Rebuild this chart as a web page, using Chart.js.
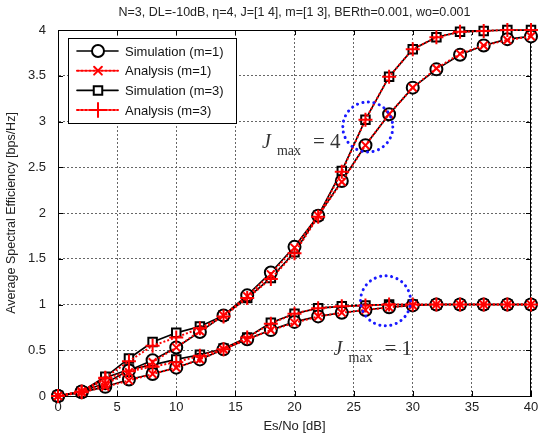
<!DOCTYPE html>
<html><head><meta charset="utf-8">
<script src="https://cdn.jsdelivr.net/npm/chart.js@4.4.1/dist/chart.umd.min.js"></script>
<style>html,body{margin:0;padding:0;background:#fff}#c{display:block}</style>
</head><body>
<canvas id="c" width="544" height="437"></canvas>
<script>
const titleText = "N=3, DL=-10dB, \u03B7=4, J=[1 4], m=[1 3], BERth=0.001, wo=0.001";
const xLabel = "Es/No [dB]";
const yLabel = "Average Spectral Efficiency [bps/Hz]";
const esno = [0,2,4,6,8,10,12,14,16,18,20,22,24,26,28,30,32,34,36,38,40];
const j4m1Sim = [0.00,0.05,0.14,0.28,0.39,0.53,0.70,0.88,1.10,1.35,1.63,1.97,2.35,2.74,3.08,3.37,3.57,3.73,3.83,3.90,3.93];
const j4m1Ana = [0.00,0.05,0.13,0.26,0.37,0.53,0.71,0.88,1.09,1.33,1.62,1.97,2.34,2.74,3.08,3.37,3.58,3.74,3.83,3.89,3.93];
const j4m3Sim = [0.00,0.05,0.21,0.41,0.59,0.69,0.76,0.88,1.07,1.29,1.57,1.97,2.46,3.02,3.49,3.79,3.92,3.98,3.99,4.00,4.00];
const j4m3Ana = [0.00,0.05,0.20,0.38,0.55,0.64,0.74,0.87,1.07,1.28,1.56,1.96,2.45,3.02,3.49,3.79,3.92,3.98,3.99,4.00,4.00];
const j1m1Sim = [0.00,0.04,0.10,0.18,0.24,0.31,0.40,0.51,0.62,0.72,0.81,0.87,0.91,0.94,0.97,0.99,1.00,1.00,1.00,1.00,1.00];
const j1m1Ana = [0.00,0.04,0.10,0.17,0.24,0.31,0.40,0.51,0.62,0.72,0.80,0.87,0.91,0.94,0.97,0.99,1.00,1.00,1.00,1.00,1.00];
const j1m3Sim = [0.00,0.04,0.20,0.29,0.34,0.40,0.45,0.52,0.64,0.80,0.90,0.96,0.98,0.99,1.00,1.00,1.00,1.00,1.00,1.00,1.00];
const j1m3Ana = [0.00,0.04,0.19,0.27,0.32,0.37,0.44,0.51,0.64,0.79,0.90,0.96,0.98,0.99,1.00,1.00,1.00,1.00,1.00,1.00,1.00];
const legendNames = ["Simulation (m=1)","Analysis (m=1)","Simulation (m=3)","Analysis (m=3)"];
const annotations = [
  {text:"= 4", x:17.25, y:2.71},
  {text:"= 1", x:23.3, y:0.45}
];
const highlightCircles = [ {x:26.2, y:2.94}, {x:27.7, y:1.04} ];

const toXY = arr => arr.map((v,i)=>({x:esno[i], y:v}));
function simDs(label, data, style, show){
  return {label, data:toXY(data), borderColor:'#000', backgroundColor:'#fff', borderWidth:1.6,
    pointStyle:style, pointRadius:6, pointBorderWidth:2, pointBorderColor:'#000', pointBackgroundColor:'#fff',
    pointHoverRadius:6, order:2, clip:false, showInLegend:show, tension:0};
}
function anaDs(label, data, style, show){
  return {label, data:toXY(data), borderColor:'#ff0000', backgroundColor:'#ff0000', borderWidth:2, borderDash:[2,2],
    pointStyle:style, pointRadius:style==='cross'?7:5.5, pointBorderWidth:2, pointBorderColor:'#ff0000',
    pointHoverRadius:6, order:1, clip:false, showInLegend:show, tension:0};
}
const datasets = [
  simDs(legendNames[0], j4m1Sim, 'circle', true),
  anaDs(legendNames[1], j4m1Ana, 'crossRot', true),
  simDs(legendNames[2], j4m3Sim, 'rect', true),
  anaDs(legendNames[3], j4m3Ana, 'cross', true),
  simDs(legendNames[0], j1m1Sim, 'circle', false),
  anaDs(legendNames[1], j1m1Ana, 'crossRot', false),
  simDs(legendNames[2], j1m3Sim, 'rect', false),
  anaDs(legendNames[3], j1m3Ana, 'cross', false)
];

const decor = {
  id:'decor',
  beforeDatasetsDraw(chart){
    const {ctx, chartArea:a} = chart;
    const xs = chart.scales.x, ys = chart.scales.y;
    ctx.save();
    ctx.strokeStyle='#000'; ctx.lineWidth=1;
    ctx.beginPath();
    xs.ticks.forEach(t=>{const px=Math.round(xs.getPixelForValue(t.value))+0.5; ctx.moveTo(px,a.bottom); ctx.lineTo(px,a.bottom-5); ctx.moveTo(px,a.top); ctx.lineTo(px,a.top+5);});
    ys.ticks.forEach(t=>{const py=Math.round(ys.getPixelForValue(t.value))+0.5; ctx.moveTo(a.left,py); ctx.lineTo(a.left+5,py); ctx.moveTo(a.right,py); ctx.lineTo(a.right-5,py);});
    ctx.stroke();
    ctx.strokeRect(a.left+0.5, a.top+0.5, a.right-a.left-1, a.bottom-a.top);
    ctx.restore();
  },
  afterDatasetsDraw(chart){
    const {ctx} = chart;
    const xs = chart.scales.x, ys = chart.scales.y;
    ctx.save();
    ctx.strokeStyle='#1a1aff'; ctx.lineWidth=3; ctx.lineCap='round'; ctx.setLineDash([0.1,5.5]);
    highlightCircles.forEach(c=>{
      ctx.beginPath();
      ctx.arc(xs.getPixelForValue(c.x), ys.getPixelForValue(c.y), 25, 0, Math.PI*2);
      ctx.stroke();
    });
    ctx.setLineDash([]);
    ctx.fillStyle='#333'; ctx.textBaseline='alphabetic'; ctx.textAlign='left';
    annotations.forEach(an=>{
      const x0 = xs.getPixelForValue(an.x), by = ys.getPixelForValue(an.y);
      ctx.font='italic 20px "Liberation Serif"'; ctx.fillText('J', x0, by);
      ctx.font='14px "Liberation Serif"'; ctx.fillText('max', x0+15, by+7);
      ctx.font='21px "Liberation Serif"'; ctx.fillText(an.text, x0+51, by);
    });
    const L = {x:68, y:38, w:168, h:85};
    ctx.fillStyle='#fff'; ctx.fillRect(L.x, L.y, L.w, L.h);
    ctx.strokeStyle='#000'; ctx.lineWidth=1; ctx.strokeRect(L.x+0.5, L.y+0.5, L.w, L.h);
    const shown = datasets.filter(d=>d.showInLegend);
    shown.forEach((d,i)=>{
      const y = 51 + i*19.7;
      ctx.save();
      ctx.strokeStyle=d.borderColor; ctx.lineWidth=d.borderWidth; ctx.setLineDash(d.borderDash||[]);
      ctx.beginPath(); ctx.moveTo(77,y); ctx.lineTo(118,y); ctx.stroke();
      ctx.setLineDash([]);
      ctx.strokeStyle=d.pointBorderColor; ctx.fillStyle=d.pointBackgroundColor||'#fff'; ctx.lineWidth=d.pointBorderWidth;
      Chart.helpers.drawPoint(ctx, {pointStyle:d.pointStyle, radius:d.pointRadius, borderWidth:d.pointBorderWidth, rotation:0}, 98, y);
      ctx.restore();
      ctx.fillStyle='#111'; ctx.font='13px "Liberation Sans", Arial'; ctx.textBaseline='middle'; ctx.textAlign='left';
      ctx.fillText(d.label, 125, y+1);
    });
    ctx.fillStyle='#222'; ctx.font='12.5px "Liberation Sans", Arial'; ctx.textAlign='center'; ctx.textBaseline='middle';
    ctx.fillText(titleText, (chart.chartArea.left+chart.chartArea.right)/2, 13);
    ctx.restore();
  }
};

const fmt = v => String(Number(v.toFixed(2)));
new Chart(document.getElementById('c'), {
  type:'line',
  data:{datasets},
  options:{
    responsive:false, animation:false, devicePixelRatio:1,
    layout:{padding:{top:30,right:13,left:0,bottom:0}},
    plugins:{legend:{display:false}, title:{display:false}, tooltip:{enabled:false}},
    scales:{
      x:{type:'linear', min:0, max:40,
        ticks:{stepSize:5, color:'#222', font:{size:13, family:'"Liberation Sans", Arial'}, padding:4, maxRotation:0, callback:fmt},
        grid:{color:'#666', lineWidth:1, drawTicks:false},
        border:{display:true, color:'#000', dash:[2,2]},
        title:{display:true, text:xLabel, color:'#222', font:{size:13, family:'"Liberation Sans", Arial'}, padding:{top:2,bottom:3}},
        afterFit(s){ s.height = 41; }
      },
      y:{type:'linear', min:0, max:4,
        ticks:{stepSize:0.5, color:'#222', font:{size:13, family:'"Liberation Sans", Arial'}, padding:12, callback:fmt},
        grid:{color:'#666', lineWidth:1, drawTicks:false},
        border:{display:true, color:'#000', dash:[2,2]},
        title:{display:true, text:yLabel, color:'#222', font:{size:12.5, family:'"Liberation Sans", Arial'}, padding:{top:4,bottom:2}},
        afterFit(s){ s.width = 58; }
      }
    }
  },
  plugins:[decor]
});
</script>
</body></html>
